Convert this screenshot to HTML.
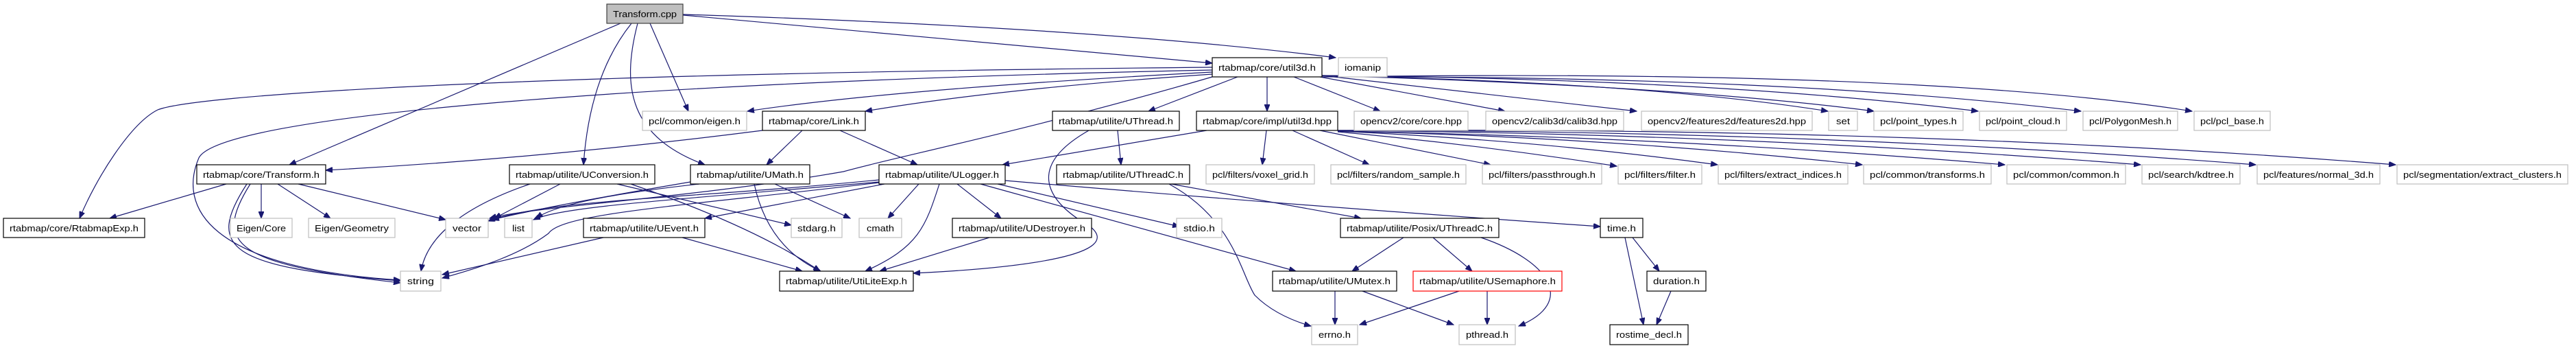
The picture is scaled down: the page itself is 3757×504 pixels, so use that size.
<!DOCTYPE html>
<html><head><meta charset="utf-8"><style>
html,body{margin:0;padding:0;background:#fff;}
svg{display:block;}
rect{fill:#fff;stroke-width:1.2;}
.b{stroke:#000;}
.g{stroke:#bfbfbf;}
.r{stroke:#ff0000;}
.s{fill:#bfbfbf;stroke:#404040;}
text{font-family:"Liberation Sans",sans-serif;font-size:13px;fill:#000;text-anchor:middle;}
path{fill:none;stroke:#191970;stroke-width:1.2;marker-end:url(#a);}
</style></head><body>
<svg width="3757" height="504" viewBox="0 0 3757 504" xmlns="http://www.w3.org/2000/svg">
<defs><marker id="a" markerUnits="userSpaceOnUse" markerWidth="11" markerHeight="8" refX="10" refY="4" orient="auto"><path d="M0,0 L10,4 L0,8 z" style="fill:#191970;stroke:#191970;stroke-width:1;marker-end:none"/></marker></defs>

<!-- edges -->
<path d="M905,34 L422,240"/>
<path d="M921,34 Q860,110 851,240"/>
<path d="M930,34 C905,130 920,200 1028,240"/>
<path d="M948,34 L1004,162"/>
<path d="M996,22 L1768,92"/>
<path d="M996,21 Q1600,40 1948,84"/>
<path d="M1768,98 C700,108 280,140 230,160 C190,180 140,260 116,318"/>
<path d="M1768,102 C900,120 320,170 290,230 C260,300 300,390 584,408"/>
<path d="M1768,105 Q1300,130 1090,162"/>
<path d="M1768,108 Q1450,130 1262,162"/>
<path d="M1768,112 C1500,190 1300,230 1230,250 C1000,290 780,300 714,318"/>
<path d="M1805,112 L1675,162"/>
<path d="M1848,112 L1848,162"/>
<path d="M1887,112 L2013,162"/>
<path d="M1925,112 L2195,162"/>
<path d="M1928,110 L2387,162"/>
<path d="M1928,110 Q2400,120 2666,162"/>
<path d="M1928,110 Q2450,125 2733,162"/>
<path d="M1928,110 Q2500,115 2885,162"/>
<path d="M1928,112 Q2600,110 3035,162"/>
<path d="M1928,112 Q2800,100 3197,162"/>
<path d="M1112,190 Q800,230 475,248"/>
<path d="M1170,190 L1118,240"/>
<path d="M1225,190 L1338,240"/>
<path d="M1630,190 L1635,240"/>
<path d="M1588,190 C1500,240 1520,290 1590,330 C1640,370 1500,390 1332,398"/>
<path d="M1760,190 L1462,240"/>
<path d="M1847,190 L1841,240"/>
<path d="M1885,190 L1997,240"/>
<path d="M1925,190 L2174,240"/>
<path d="M1951,192 Q2150,210 2358,242"/>
<path d="M1951,191 Q2250,205 2505,240"/>
<path d="M1951,191 Q2350,200 2716,240"/>
<path d="M1951,191 Q2450,200 2924,240"/>
<path d="M1951,190 Q2550,195 3122,240"/>
<path d="M1951,190 Q2650,190 3290,240"/>
<path d="M1951,190 Q2800,185 3494,240"/>
<path d="M330,268 L160,318"/>
<path d="M360,268 C300,360 330,390 584,409"/>
<path d="M365,268 C310,355 340,385 584,412"/>
<path d="M381,268 L381,318"/>
<path d="M405,268 L482,318"/>
<path d="M435,268 L650,320"/>
<path d="M773,268 C650,310 620,360 614,395"/>
<path d="M817,268 L721,318"/>
<path d="M900,268 L1154,328"/>
<path d="M920,268 Q1100,330 1196,395"/>
<path d="M1007,265 Q800,300 718,320"/>
<path d="M1020,268 Q820,290 782,318"/>
<path d="M1130,268 L1240,318"/>
<path d="M1100,268 Q1120,360 1197,395"/>
<path d="M1282,262 C1000,290 800,290 712,322"/>
<path d="M1282,265 C1000,290 820,300 778,320"/>
<path d="M1290,268 L1028,318"/>
<path d="M1282,266 C1000,300 820,310 800,340 C760,370 700,390 645,405"/>
<path d="M1340,268 L1295,318"/>
<path d="M1370,268 C1350,330 1340,360 1262,395"/>
<path d="M1396,268 L1460,318"/>
<path d="M1430,268 L1890,395"/>
<path d="M1455,268 L1720,330"/>
<path d="M1466,263 Q1900,300 2334,330"/>
<path d="M1708,268 L1985,318"/>
<path d="M1705,268 C1800,320 1810,400 1830,430 Q1860,460 1912,475"/>
<path d="M880,346 L645,400"/>
<path d="M995,346 L1170,395"/>
<path d="M1443,346 L1283,395"/>
<path d="M2047,346 L1972,395"/>
<path d="M2090,346 L2147,395"/>
<path d="M2160,346 C2260,380 2300,440 2215,475"/>
<path d="M1947,424 L1947,473"/>
<path d="M1987,424 L2120,473"/>
<path d="M2128,424 L1983,473"/>
<path d="M2169,424 L2169,473"/>
<path d="M2381,346 L2420,395"/>
<path d="M2370,346 L2397,473"/>
<path d="M2437,424 L2416,473"/>

<!-- nodes -->
<rect class="s" x="885" y="6" width="111" height="28"/><text x="940.5" y="25" textLength="93" lengthAdjust="spacingAndGlyphs">Transform.cpp</text>
<rect class="b" x="1768" y="84" width="160" height="28"/><text x="1848" y="103" textLength="142" lengthAdjust="spacingAndGlyphs">rtabmap/core/util3d.h</text>
<rect class="g" x="1952" y="84" width="71" height="28"/><text x="1987.5" y="103" textLength="53" lengthAdjust="spacingAndGlyphs">iomanip</text>

<rect class="g" x="937" y="162" width="152" height="28"/><text x="1013" y="181" textLength="134" lengthAdjust="spacingAndGlyphs">pcl/common/eigen.h</text>
<rect class="b" x="1112" y="162" width="150" height="28"/><text x="1187" y="181" textLength="132" lengthAdjust="spacingAndGlyphs">rtabmap/core/Link.h</text>
<rect class="b" x="1535" y="162" width="185" height="28"/><text x="1627.5" y="181" textLength="167" lengthAdjust="spacingAndGlyphs">rtabmap/utilite/UThread.h</text>
<rect class="b" x="1745" y="162" width="206" height="28"/><text x="1848" y="181" textLength="188" lengthAdjust="spacingAndGlyphs">rtabmap/core/impl/util3d.hpp</text>
<rect class="g" x="1975" y="162" width="166" height="28"/><text x="2058" y="181" textLength="148" lengthAdjust="spacingAndGlyphs">opencv2/core/core.hpp</text>
<rect class="g" x="2167" y="162" width="201" height="28"/><text x="2267.5" y="181" textLength="183" lengthAdjust="spacingAndGlyphs">opencv2/calib3d/calib3d.hpp</text>
<rect class="g" x="2394" y="162" width="249" height="28"/><text x="2518.5" y="181" textLength="231" lengthAdjust="spacingAndGlyphs">opencv2/features2d/features2d.hpp</text>
<rect class="g" x="2667" y="162" width="42" height="28"/><text x="2688" y="181" textLength="20" lengthAdjust="spacingAndGlyphs">set</text>
<rect class="g" x="2733" y="162" width="130" height="28"/><text x="2798" y="181" textLength="112" lengthAdjust="spacingAndGlyphs">pcl/point_types.h</text>
<rect class="g" x="2887" y="162" width="127" height="28"/><text x="2950.5" y="181" textLength="109" lengthAdjust="spacingAndGlyphs">pcl/point_cloud.h</text>
<rect class="g" x="3038" y="162" width="138" height="28"/><text x="3107" y="181" textLength="120" lengthAdjust="spacingAndGlyphs">pcl/PolygonMesh.h</text>
<rect class="g" x="3200" y="162" width="111" height="28"/><text x="3255.5" y="181" textLength="93" lengthAdjust="spacingAndGlyphs">pcl/pcl_base.h</text>

<rect class="b" x="287" y="240" width="188" height="28"/><text x="381" y="259" textLength="170" lengthAdjust="spacingAndGlyphs">rtabmap/core/Transform.h</text>
<rect class="b" x="743" y="240" width="212" height="28"/><text x="849" y="259" textLength="194" lengthAdjust="spacingAndGlyphs">rtabmap/utilite/UConversion.h</text>
<rect class="b" x="1007" y="240" width="174" height="28"/><text x="1094" y="259" textLength="156" lengthAdjust="spacingAndGlyphs">rtabmap/utilite/UMath.h</text>
<rect class="b" x="1282" y="240" width="184" height="28"/><text x="1374" y="259" textLength="166" lengthAdjust="spacingAndGlyphs">rtabmap/utilite/ULogger.h</text>
<rect class="b" x="1541" y="240" width="194" height="28"/><text x="1638" y="259" textLength="176" lengthAdjust="spacingAndGlyphs">rtabmap/utilite/UThreadC.h</text>
<rect class="g" x="1759" y="240" width="158" height="28"/><text x="1838" y="259" textLength="140" lengthAdjust="spacingAndGlyphs">pcl/filters/voxel_grid.h</text>
<rect class="g" x="1941" y="240" width="197" height="28"/><text x="2039.5" y="259" textLength="179" lengthAdjust="spacingAndGlyphs">pcl/filters/random_sample.h</text>
<rect class="g" x="2162" y="240" width="174" height="28"/><text x="2249" y="259" textLength="156" lengthAdjust="spacingAndGlyphs">pcl/filters/passthrough.h</text>
<rect class="g" x="2360" y="240" width="122" height="28"/><text x="2421" y="259" textLength="104" lengthAdjust="spacingAndGlyphs">pcl/filters/filter.h</text>
<rect class="g" x="2506" y="240" width="189" height="28"/><text x="2600.5" y="259" textLength="171" lengthAdjust="spacingAndGlyphs">pcl/filters/extract_indices.h</text>
<rect class="g" x="2718" y="240" width="186" height="28"/><text x="2811" y="259" textLength="168" lengthAdjust="spacingAndGlyphs">pcl/common/transforms.h</text>
<rect class="g" x="2927" y="240" width="173" height="28"/><text x="3013.5" y="259" textLength="155" lengthAdjust="spacingAndGlyphs">pcl/common/common.h</text>
<rect class="g" x="3124" y="240" width="143" height="28"/><text x="3195.5" y="259" textLength="125" lengthAdjust="spacingAndGlyphs">pcl/search/kdtree.h</text>
<rect class="g" x="3292" y="240" width="179" height="28"/><text x="3381.5" y="259" textLength="161" lengthAdjust="spacingAndGlyphs">pcl/features/normal_3d.h</text>
<rect class="g" x="3496" y="240" width="249" height="28"/><text x="3620.5" y="259" textLength="231" lengthAdjust="spacingAndGlyphs">pcl/segmentation/extract_clusters.h</text>

<rect class="b" x="5" y="318" width="206" height="28"/><text x="108" y="337" textLength="188" lengthAdjust="spacingAndGlyphs">rtabmap/core/RtabmapExp.h</text>
<rect class="g" x="336" y="318" width="90" height="28"/><text x="381" y="337" textLength="72" lengthAdjust="spacingAndGlyphs">Eigen/Core</text>
<rect class="g" x="450" y="318" width="126" height="28"/><text x="513" y="337" textLength="108" lengthAdjust="spacingAndGlyphs">Eigen/Geometry</text>
<rect class="g" x="650" y="318" width="62" height="28"/><text x="681" y="337" textLength="42" lengthAdjust="spacingAndGlyphs">vector</text>
<rect class="g" x="736" y="318" width="40" height="28"/><text x="756" y="337" textLength="18" lengthAdjust="spacingAndGlyphs">list</text>
<rect class="b" x="851" y="318" width="177" height="28"/><text x="939.5" y="337" textLength="159" lengthAdjust="spacingAndGlyphs">rtabmap/utilite/UEvent.h</text>
<rect class="g" x="1154" y="318" width="74" height="28"/><text x="1191" y="337" textLength="56" lengthAdjust="spacingAndGlyphs">stdarg.h</text>
<rect class="g" x="1253" y="318" width="62" height="28"/><text x="1284" y="337" textLength="40" lengthAdjust="spacingAndGlyphs">cmath</text>
<rect class="b" x="1389" y="318" width="203" height="28"/><text x="1490.5" y="337" textLength="185" lengthAdjust="spacingAndGlyphs">rtabmap/utilite/UDestroyer.h</text>
<rect class="g" x="1716" y="318" width="66" height="28"/><text x="1749" y="337" textLength="46" lengthAdjust="spacingAndGlyphs">stdio.h</text>
<rect class="b" x="1955" y="318" width="231" height="28"/><text x="2070.5" y="337" textLength="213" lengthAdjust="spacingAndGlyphs">rtabmap/utilite/Posix/UThreadC.h</text>
<rect class="b" x="2334" y="318" width="62" height="28"/><text x="2365" y="337" textLength="42" lengthAdjust="spacingAndGlyphs">time.h</text>

<rect class="g" x="584" y="395" width="59" height="29"/><text x="613.5" y="414" textLength="39" lengthAdjust="spacingAndGlyphs">string</text>
<rect class="b" x="1137" y="395" width="195" height="29"/><text x="1234.5" y="414" textLength="177" lengthAdjust="spacingAndGlyphs">rtabmap/utilite/UtiLiteExp.h</text>
<rect class="b" x="1856" y="395" width="181" height="29"/><text x="1946.5" y="414" textLength="163" lengthAdjust="spacingAndGlyphs">rtabmap/utilite/UMutex.h</text>
<rect class="r" x="2061" y="395" width="217" height="29"/><text x="2169.5" y="414" textLength="199" lengthAdjust="spacingAndGlyphs">rtabmap/utilite/USemaphore.h</text>
<rect class="b" x="2402" y="395" width="86" height="29"/><text x="2445" y="414" textLength="68" lengthAdjust="spacingAndGlyphs">duration.h</text>

<rect class="g" x="1913" y="473" width="67" height="29"/><text x="1946.5" y="492" textLength="47" lengthAdjust="spacingAndGlyphs">errno.h</text>
<rect class="g" x="2128" y="473" width="82" height="29"/><text x="2169" y="492" textLength="62" lengthAdjust="spacingAndGlyphs">pthread.h</text>
<rect class="b" x="2348" y="473" width="114" height="29"/><text x="2405" y="492" textLength="96" lengthAdjust="spacingAndGlyphs">rostime_decl.h</text>
</svg>
</body></html>
